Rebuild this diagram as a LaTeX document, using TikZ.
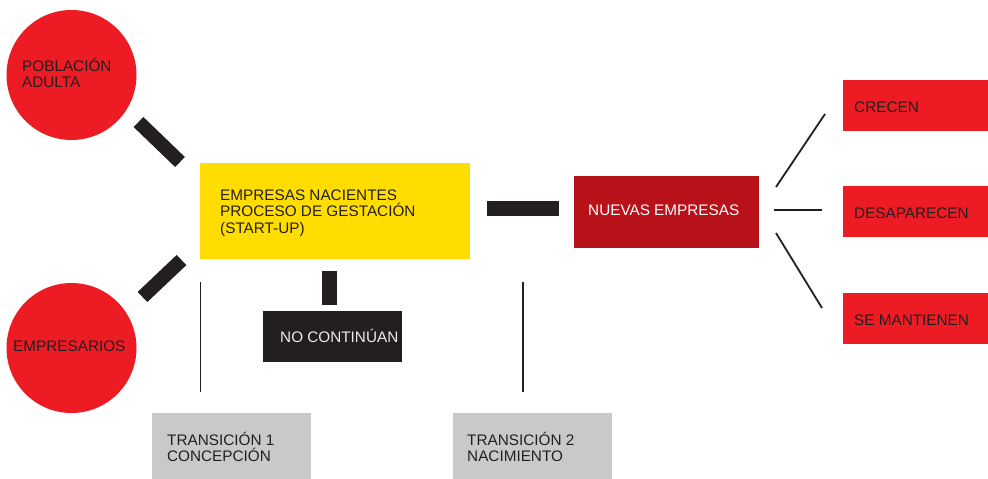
\documentclass[tikz,border=0pt]{standalone}
\usepackage{fontspec}
\setmainfont{Liberation Sans}
\definecolor{cred}{HTML}{ED1C24}
\definecolor{cyel}{HTML}{FFDD00}
\definecolor{cdark}{HTML}{B7111A}
\definecolor{cblk}{HTML}{231F20}
\definecolor{cgray}{HTML}{C8C9CA}
\begin{document}
\begin{tikzpicture}[x=1pt,y=-1pt,
  box/.style={draw=none,inner sep=0pt,outer sep=0pt,anchor=north west},
  circ/.style={circle,fill=cred,inner sep=0pt,minimum size=130pt},
  txt/.style={inner sep=0pt,anchor=base west,text=cblk,font=\fontsize{15.3}{17}\selectfont},
  bar/.style={draw=cblk,line width=14pt},
  thin/.style={draw=cblk,line width=1.6pt}]
\useasboundingbox (0,0) rectangle (988,479);
% circles
\node[circ] (pob) at (71.5,75) {};
\node[circ] (emp) at (71.5,348) {};
\node[txt] (pobt1) at (22,71) {POBLACIÓN};
\node[txt] (pobt2) at (22,87.5) {ADULTA};
\node[txt] (empt) at (13,351) {EMPRESARIOS};
% yellow box
\node[box,fill=cyel,minimum width=270pt,minimum height=96pt] (yel) at (200,163) {};
\node[txt] (yt1) at (220,200) {EMPRESAS NACIENTES};
\node[txt] (yt2) at (220,216.5) {PROCESO DE GESTACIÓN};
\node[txt] (yt3) at (220,233) {(START-UP)};
% nuevas empresas
\node[box,fill=cdark,minimum width=185pt,minimum height=72pt] (nue) at (574,176) {};
\node[txt,text=white] (nuet) at (588,215.5) {NUEVAS EMPRESAS};
% no continuan
\node[box,fill=cblk,minimum width=139pt,minimum height=51pt] (noc) at (263,311) {};
\node[txt,text=white!92!black] (noct) at (280,342) {NO CONTINÚAN};
% gray boxes
\node[box,fill=cgray,minimum width=159pt,minimum height=66pt] (tr1) at (152,413) {};
\node[txt] (tr1a) at (167,445) {TRANSICIÓN 1};
\node[txt] (tr1b) at (167,461) {CONCEPCIÓN};
\node[box,fill=cgray,minimum width=159pt,minimum height=66pt] (tr2) at (453,413) {};
\node[txt] (tr2a) at (467,445) {TRANSICIÓN 2};
\node[txt] (tr2b) at (467,461) {NACIMIENTO};
% right boxes
\node[box,fill=cred,minimum width=146pt,minimum height=51pt] (cre) at (843,80) {};
\node[txt] (cret) at (854,112) {CRECEN};
\node[box,fill=cred,minimum width=146pt,minimum height=51pt] (des) at (843,186) {};
\node[txt] (dest) at (854,218) {DESAPARECEN};
\node[box,fill=cred,minimum width=146pt,minimum height=51pt] (sem) at (843,293) {};
\node[txt] (semt) at (854,325) {SE MANTIENEN};
% connector end points
\coordinate (b1a) at (138.5,122);
\coordinate (b1b) at (180,162);
\coordinate (b2a) at (142.5,297);
\coordinate (b2b) at (181.5,260);
\coordinate (b3a) at (487,208.5);
\coordinate (b3b) at (559,208.5);
\coordinate (b4a) at (329.5,271);
\coordinate (b4b) at (329.5,305);
\coordinate (v1a) at (200.5,282);
\coordinate (v1b) at (200.5,392);
\coordinate (v2a) at (523,282);
\coordinate (v2b) at (523,392);
\coordinate (r1a) at (776,187);
\coordinate (r1b) at (825,114);
\coordinate (r2a) at (774,210);
\coordinate (r2b) at (822,210);
\coordinate (r3a) at (776,233);
\coordinate (r3b) at (822,308);
% bars
\draw[bar] (b1a) -- (b1b);
\draw[bar] (b2a) -- (b2b);
\draw[bar,line width=15pt] (b3a) -- (b3b);
\draw[bar,line width=15pt] (b4a) -- (b4b);
% thin lines
\draw[thin] (v1a) -- (v1b);
\draw[thin] (v2a) -- (v2b);
\draw[thin,line width=1.8pt] (r1a) -- (r1b);
\draw[thin,line width=1.8pt] (r2a) -- (r2b);
\draw[thin,line width=1.8pt] (r3a) -- (r3b);
\end{tikzpicture}
\end{document}
